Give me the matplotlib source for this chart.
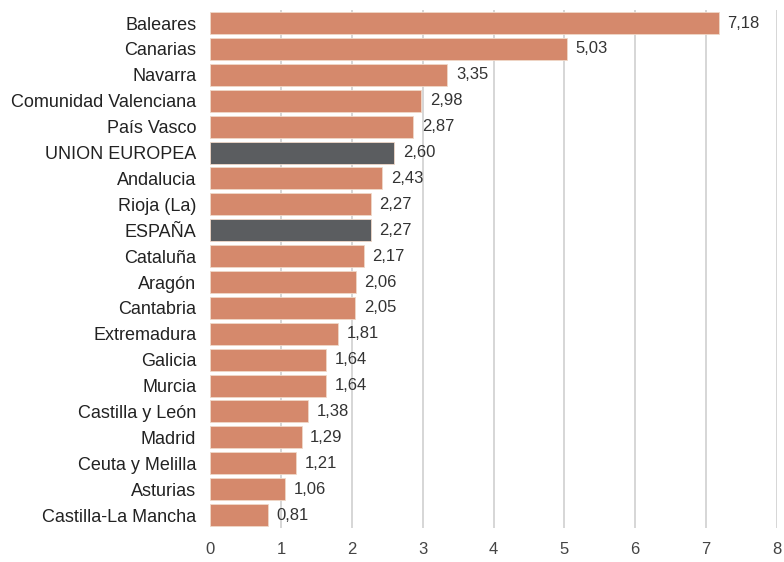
import matplotlib
matplotlib.use("Agg")
import matplotlib.pyplot as plt

categories = ["Baleares", "Canarias", "Navarra", "Comunidad Valenciana", "País Vasco",
              "UNION EUROPEA", "Andalucia", "Rioja (La)", "ESPAÑA", "Cataluña", "Aragón",
              "Cantabria", "Extremadura", "Galicia", "Murcia", "Castilla y León", "Madrid",
              "Ceuta y Melilla", "Asturias", "Castilla-La Mancha"]
values = [7.18, 5.03, 3.35, 2.98, 2.87, 2.60, 2.43, 2.27, 2.27, 2.17, 2.06, 2.05,
          1.81, 1.64, 1.64, 1.38, 1.29, 1.21, 1.06, 0.81]
highlight = ["UNION EUROPEA", "ESPAÑA"]
xticks = [0, 1, 2, 3, 4, 5, 6, 7, 8]

plt.rcParams['font.family'] = ['Liberation Sans', 'DejaVu Sans']

fig = plt.figure(figsize=(7.84, 5.62), dpi=100)
ax = fig.add_axes([0.268, 0.0605, 0.723, 0.9215])

salmon = "#d5896c"
dark = "#5b5d60"
colors = [dark if c in highlight else salmon for c in categories]
y = list(range(len(categories)))
ax.barh(y, values, height=0.85, color=colors, zorder=2, edgecolor="#f0d8c8", linewidth=0.6)

for yi, v in zip(y, values):
    ax.text(v + 0.12, yi, f"{v:.2f}".replace(".", ","), va="center", ha="left",
            fontsize=12, color="#333333", zorder=3)

ax.set_ylim(len(categories) - 0.5, -0.5)
ax.set_xlim(0, 8)
ax.set_yticks(y)
ax.set_yticklabels(categories, fontsize=13, color="#222222")
ax.set_xticks(xticks)
ax.set_xticklabels([str(t) for t in xticks], fontsize=12, color="#444444")
for t in xticks[1:]:
    ax.axvline(t, color="#cfcfcf", linewidth=1.2, zorder=1)
for s in ax.spines.values():
    s.set_visible(False)
ax.tick_params(axis="both", length=0)
ax.tick_params(axis="x", pad=10)
ax.tick_params(axis="y", pad=10)

fig.savefig("out.png", dpi=100, facecolor="white")
